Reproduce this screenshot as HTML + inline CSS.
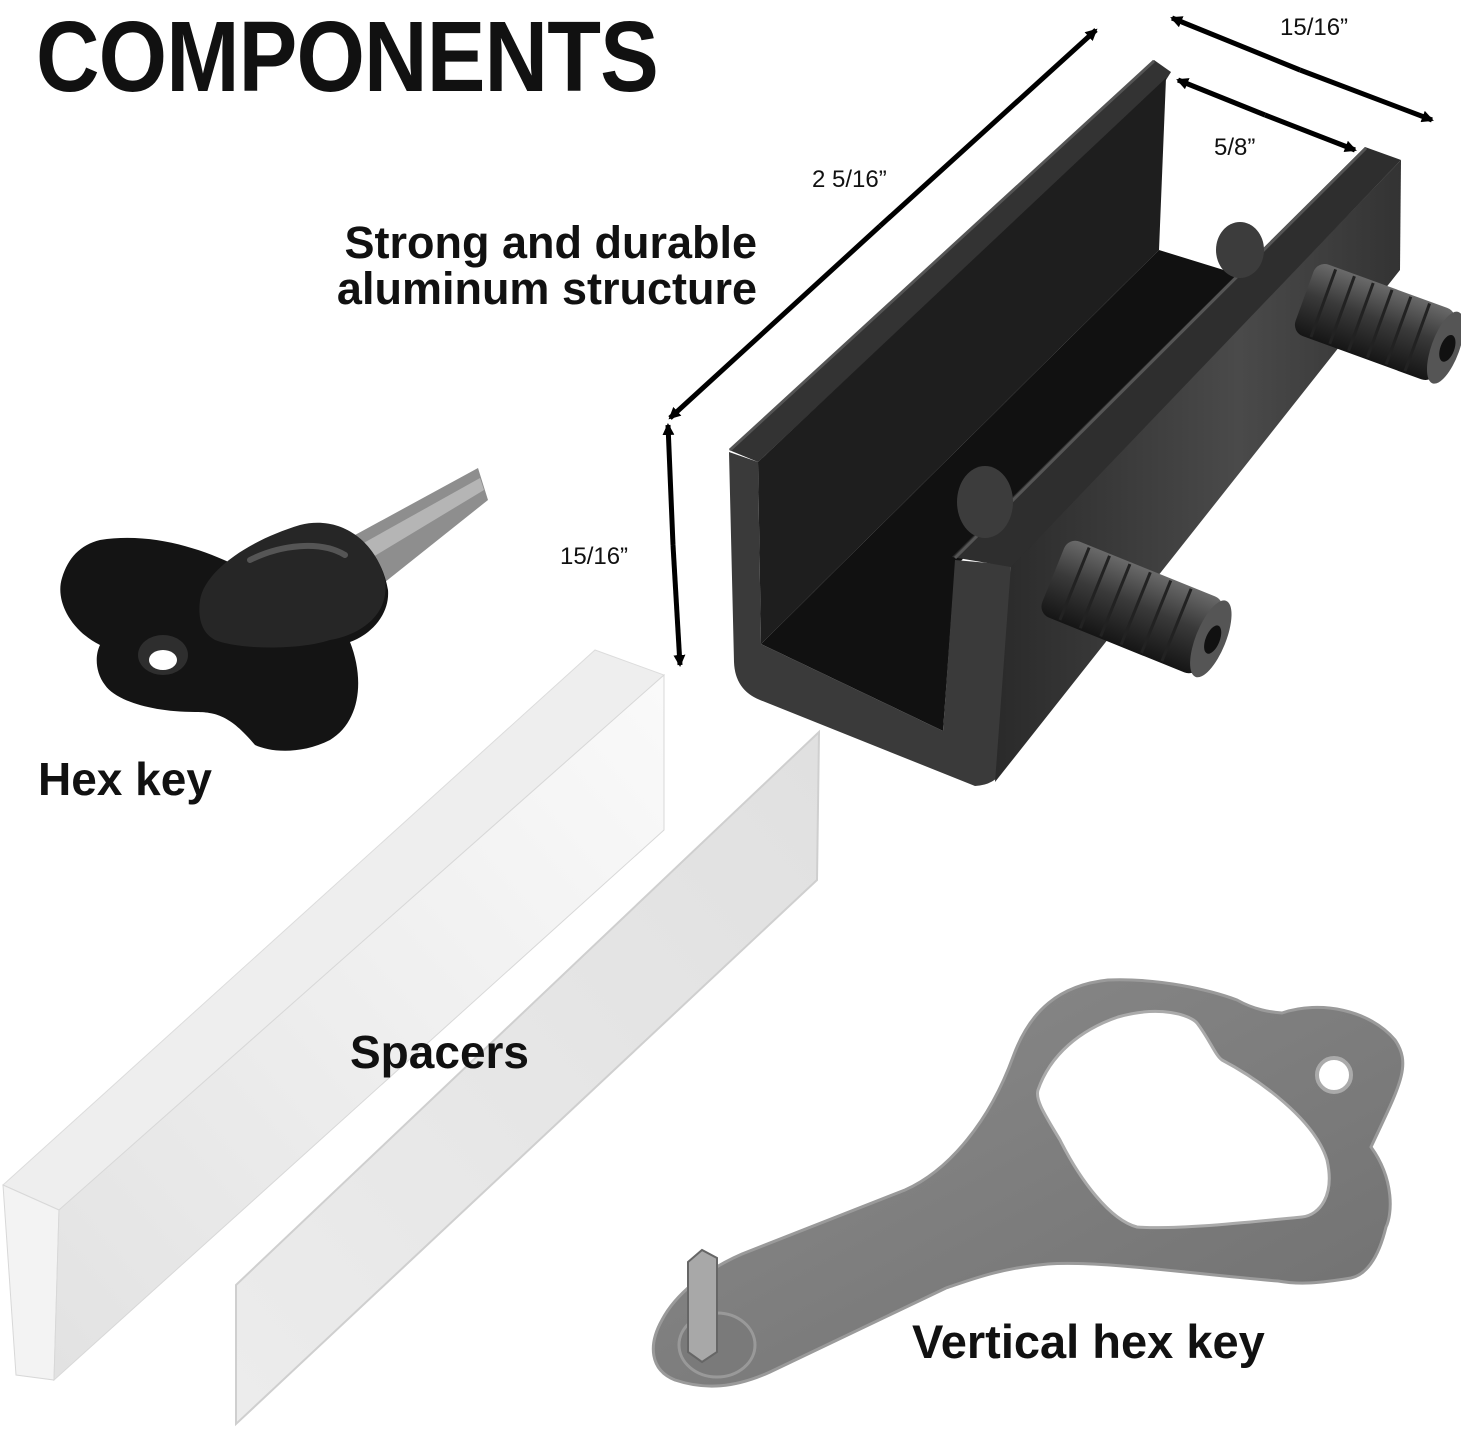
<!DOCTYPE html>
<html><head><meta charset="utf-8"><style>
html,body{margin:0;padding:0;background:#fff}
.w{position:relative;width:1461px;height:1450px;overflow:hidden;background:#fff;font-family:"Liberation Sans",sans-serif}
.t{position:absolute;font-weight:bold;color:#111;white-space:nowrap}
</style></head><body><div class="w">
<svg width="1461" height="1450" style="position:absolute;left:0;top:0">
<defs>
<marker id="a" markerWidth="12" markerHeight="12" refX="10" refY="6" orient="auto" markerUnits="userSpaceOnUse"><path d="M0,0 L12,6 L0,12 z" fill="#000"/></marker>
<linearGradient id="bolt" x1="0" y1="0" x2="0" y2="1"><stop offset="0" stop-color="#6a6a6a"/><stop offset=".45" stop-color="#3a3a3a"/><stop offset="1" stop-color="#151515"/></linearGradient>
<linearGradient id="met" x1="0" y1="0" x2="1" y2="1"><stop offset="0" stop-color="#8c8c8c"/><stop offset="1" stop-color="#6f6f6f"/></linearGradient>
<linearGradient id="arm" x1="0" y1="0" x2="1" y2="0"><stop offset="0" stop-color="#2a2a2a"/><stop offset=".6" stop-color="#4a4a4a"/><stop offset="1" stop-color="#333"/></linearGradient>
<linearGradient id="side" x1="0" y1="1" x2="1" y2="0"><stop offset="0" stop-color="#e2e2e2"/><stop offset="1" stop-color="#fafafa"/></linearGradient>
<linearGradient id="thin" x1="0" y1="1" x2="1" y2="0"><stop offset="0" stop-color="#ececec"/><stop offset="1" stop-color="#e0e0e0"/></linearGradient>
</defs>

<!-- bracket -->
<!-- back wall outer/top band -->
<polygon points="729,450 1154,60 1171,72 1166,80 758,462" fill="#333"/>
<!-- back wall inner face -->
<polygon points="758,462 1166,78 1159,250 761,644" fill="#1e1e1e"/>
<!-- channel floor -->
<polygon points="761,644 1159,250 1240,275 955,567 943,731" fill="#111"/>
<!-- front U profile -->
<path d="M729,452 L758,462 L761,644 L943,731 L955,560 L1011,565 L1003,770 Q995,785 975,786 L760,700 Q735,690 734,662 Z" fill="#3a3a3a"/>
<!-- front arm outer face -->
<polygon points="1011,565 1401,160 1400,270 995,782" fill="url(#arm)"/>
<!-- front arm top band -->
<polygon points="952,557 1365,147 1401,160 1011,567" fill="#2e2e2e"/>
<line x1="955" y1="558" x2="1366" y2="148" stroke="#555" stroke-width="3"/>
<line x1="730" y1="450" x2="1154" y2="61" stroke="#555" stroke-width="3"/>
<!-- nubs -->
<ellipse cx="1240" cy="250" rx="24" ry="28" fill="#3c3c3c"/>
<ellipse cx="985" cy="502" rx="28" ry="36" fill="#3c3c3c"/>
<!-- bolts -->
<g transform="rotate(20 1375 322)">
<rect x="1300" y="284" width="150" height="76" rx="12" fill="url(#bolt)"/>
<g stroke="#222" stroke-width="3"><line x1="1320" y1="286" x2="1320" y2="358"/><line x1="1340" y1="286" x2="1340" y2="358"/><line x1="1360" y1="286" x2="1360" y2="358"/><line x1="1380" y1="286" x2="1380" y2="358"/><line x1="1400" y1="286" x2="1400" y2="358"/><line x1="1420" y1="286" x2="1420" y2="358"/></g>
<ellipse cx="1450" cy="322" rx="14" ry="38" fill="#555"/>
<ellipse cx="1452" cy="322" rx="7" ry="14" fill="#111"/>
</g>
<g transform="rotate(22 1132 607)">
<rect x="1047" y="566" width="170" height="82" rx="12" fill="url(#bolt)"/>
<g stroke="#222" stroke-width="3"><line x1="1070" y1="568" x2="1070" y2="646"/><line x1="1092" y1="568" x2="1092" y2="646"/><line x1="1114" y1="568" x2="1114" y2="646"/><line x1="1136" y1="568" x2="1136" y2="646"/><line x1="1158" y1="568" x2="1158" y2="646"/><line x1="1180" y1="568" x2="1180" y2="646"/></g>
<ellipse cx="1217" cy="607" rx="15" ry="41" fill="#555"/>
<ellipse cx="1219" cy="607" rx="7" ry="15" fill="#111"/>
</g>

<!-- dimension arrows -->
<g stroke="#000" stroke-width="5" fill="none">
<line x1="880" y1="226" x2="1096" y2="30" marker-end="url(#a)"/>
<line x1="880" y1="226" x2="670" y2="418" marker-end="url(#a)"/>
<line x1="1300" y1="70" x2="1172" y2="18" marker-end="url(#a)"/>
<line x1="1300" y1="70" x2="1432" y2="120" marker-end="url(#a)"/>
<line x1="1265" y1="115" x2="1178" y2="80" marker-end="url(#a)"/>
<line x1="1265" y1="115" x2="1355" y2="150" marker-end="url(#a)"/>
<line x1="673" y1="545" x2="668" y2="425" marker-end="url(#a)"/>
<line x1="673" y1="545" x2="680" y2="665" marker-end="url(#a)"/>
</g>

<!-- hex key -->
<polygon points="355,535 478,468 488,500 375,590" fill="#8e8e8e"/>
<polygon points="360,545 480,478 484,490 368,560" fill="#b5b5b5"/>
<path d="M100,540 C150,532 200,548 235,565 L300,530 C345,515 380,545 388,590 C390,615 370,635 350,642 C365,680 360,722 330,740 C300,755 270,752 255,745 C230,715 215,712 195,712 C150,712 115,700 105,685 C95,672 95,655 100,645 C70,630 55,600 62,578 C68,558 80,545 100,540 Z" fill="#141414"/>
<path d="M200,600 C205,570 250,540 300,525 C340,515 375,540 385,580 C390,615 360,635 330,640 C300,650 240,650 215,640 C200,632 198,615 200,600 Z" fill="#262626"/>
<path d="M250,560 C280,545 320,540 345,555" stroke="#555" stroke-width="6" fill="none" stroke-linecap="round"/>
<ellipse cx="163" cy="655" rx="25" ry="20" fill="#2e2e2e"/>
<ellipse cx="163" cy="660" rx="14" ry="10" fill="#fff"/>

<!-- spacers -->
<polygon points="3,1185 595,650 664,675 59,1210" fill="#eeeeee" stroke="#dcdcdc" stroke-width="1"/>
<polygon points="3,1185 59,1210 54,1380 16,1375" fill="#f3f3f3" stroke="#d8d8d8" stroke-width="1"/>
<polygon points="59,1210 664,675 664,830 54,1380" fill="url(#side)" stroke="#d8d8d8" stroke-width="1"/>
<polygon points="236,1285 819,732 817,880 236,1424" fill="url(#thin)" stroke="#cfcfcf" stroke-width="2"/>

<!-- vertical hex key -->
<path d="M742,1254 L905,1190 C950,1170 990,1120 1013,1057 C1030,1010 1060,985 1108,980 C1160,978 1210,990 1237,1000 C1255,1010 1270,1012 1282,1013 C1320,1000 1370,1010 1395,1040 C1412,1065 1400,1085 1371,1147 C1395,1180 1392,1215 1386,1227 C1378,1260 1365,1275 1351,1278 C1320,1283 1300,1285 1278,1281 C1200,1275 1100,1260 1048,1264 C1000,1268 970,1280 946,1288 L770,1372 C735,1388 705,1390 675,1380 C650,1370 648,1345 662,1320 C675,1295 705,1270 742,1254 Z" fill="url(#met)" stroke="#9a9a9a" stroke-width="3"/>
<path d="M1118,1017 C1160,1005 1190,1015 1197,1023 C1210,1040 1215,1055 1222,1060 C1260,1080 1315,1120 1327,1160 C1335,1195 1320,1215 1302,1217 C1250,1222 1180,1230 1137,1227 C1110,1220 1080,1180 1060,1140 C1045,1115 1035,1100 1038,1090 C1050,1055 1080,1030 1118,1017 Z" fill="#fff" stroke="#aaa" stroke-width="3"/>
<circle cx="1334" cy="1075" r="17" fill="#fff" stroke="#aaa" stroke-width="4"/>
<ellipse cx="717" cy="1345" rx="38" ry="32" fill="#7a7a7a" stroke="#999" stroke-width="3"/>
<polygon points="688,1262 702,1250 717,1258 717,1352 702,1362 688,1352" fill="#a8a8a8" stroke="#666" stroke-width="2"/>
</svg>
<div class="t" style="left:36px;top:0px;font-size:100px;letter-spacing:-1px;transform:scaleX(.88);transform-origin:left top">COMPONENTS</div>
<div class="t" style="left:1280px;top:14px;font-size:24px;font-weight:normal">15/16”</div>
<div class="t" style="left:1214px;top:134px;font-size:24px;font-weight:normal">5/8”</div>
<div class="t" style="left:812px;top:166px;font-size:24px;font-weight:normal">2 5/16”</div>
<div class="t" style="left:560px;top:543px;font-size:24px;font-weight:normal">15/16”</div>
<div class="t" style="left:320px;top:220px;width:437px;font-size:45px;line-height:46px;text-align:right">Strong and durable<br>aluminum structure</div>
<div class="t" style="left:38px;top:752px;font-size:46px">Hex key</div>
<div class="t" style="left:350px;top:1025px;font-size:46px">Spacers</div>
<div class="t" style="left:912px;top:1314px;font-size:47px">Vertical hex key</div>
</div></body></html>
